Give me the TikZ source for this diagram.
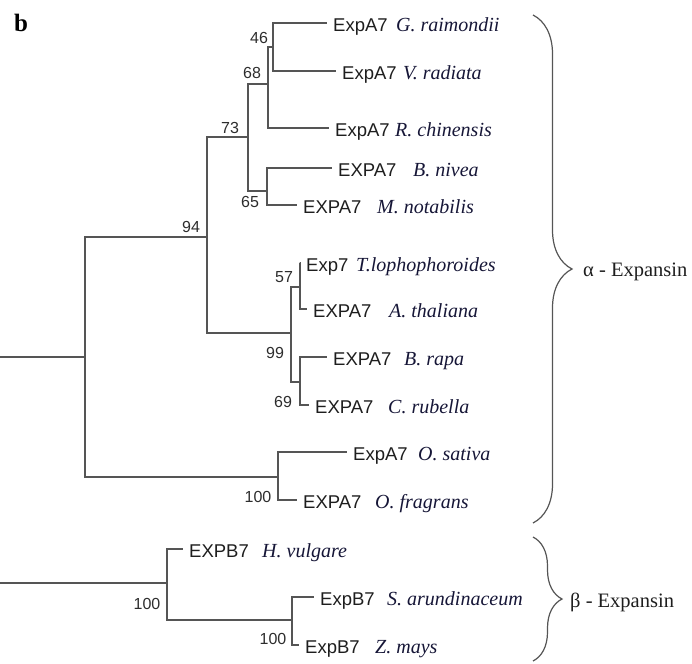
\documentclass[tikz,border=0pt]{standalone}
\usepackage{fontspec}
\setmainfont{Liberation Serif}
\newfontfamily\genefont{Liberation Sans}
\usetikzlibrary{decorations.pathreplacing}
\definecolor{linegray}{RGB}{85,85,85}
\definecolor{genecol}{RGB}{30,30,30}
\definecolor{spcol}{RGB}{22,22,55}
\definecolor{numcol}{RGB}{45,45,45}
\begin{document}
\begin{tikzpicture}[x=1pt,y=-1pt,
  branch/.style={draw=linegray, line width=1.3pt},
  gene/.style={anchor=west, inner xsep=6.5pt, inner ysep=0pt, text height=17pt, text depth=0pt,
    font=\genefont\fontsize{18.5}{18.5}\selectfont, text=genecol},
  species/.style={anchor=west, inner sep=0pt, text height=17pt, text depth=0pt,
    font=\itshape\fontsize{20}{20}\selectfont, text=spcol},
  boot/.style={inner sep=0pt, font=\genefont\fontsize{16}{16}\selectfont, text=numcol},
  clade/.style={anchor=west, inner sep=0pt, font=\fontsize{20.5}{20.5}\selectfont, text=genecol},
  bracestyle/.style={draw=linegray, line width=1.2pt, decorate}
]
\useasboundingbox (0,0) rectangle (692,663);

\node[anchor=base west, inner sep=0pt, font=\bfseries\fontsize{25}{25}\selectfont] (panel) at (14,32) {b};

% leaves: gene names
\node[gene] (G)  at (326.5,23)  {ExpA7};
\node[gene] (V)  at (335.5,71)  {ExpA7};
\node[gene] (R)  at (328.5,128) {ExpA7};
\node[gene] (Bn) at (331.5,168) {EXPA7};
\node[gene] (M)  at (296.5,205) {EXPA7};
\node[gene] (T)  at (299.5,263) {Exp7};
\node[gene] (A)  at (306.5,309) {EXPA7};
\node[gene] (Br) at (326.5,357) {EXPA7};
\node[gene] (C)  at (308.5,405) {EXPA7};
\node[gene] (Os) at (346.5,452) {ExpA7};
\node[gene] (Of) at (296.5,500) {EXPA7};
\node[gene] (H)  at (182.5,549) {EXPB7};
\node[gene] (S)  at (313.5,597) {ExpB7};
\node[gene] (Z)  at (298.5,645) {ExpB7};

% species names
\node[species] (sG)  at (396,23)  {G. raimondii};
\node[species] (sV)  at (403,71)  {V. radiata};
\node[species] (sR)  at (395,128) {R. chinensis};
\node[species] (sBn) at (413,168) {B. nivea};
\node[species] (sM)  at (377,205) {M. notabilis};
\node[species] (sT)  at (356,263) {T.lophophoroides};
\node[species] (sA)  at (389,309) {A. thaliana};
\node[species] (sBr) at (404,357) {B. rapa};
\node[species] (sC)  at (388,405) {C. rubella};
\node[species] (sOs) at (418,452) {O. sativa};
\node[species] (sOf) at (375,500) {O. fragrans};
\node[species] (sH)  at (262,549) {H. vulgare};
\node[species] (sS)  at (387,597) {S. arundinaceum};
\node[species] (sZ)  at (375,645) {Z. mays};

% internal nodes
\coordinate (n46) at (273,47);
\coordinate (n68) at (268,84);
\coordinate (n65) at (267,191);
\coordinate (n73) at (248,137);
\coordinate (n57) at (300,287);
\coordinate (n69) at (300,382);
\coordinate (n99) at (291,333);
\coordinate (n94) at (207,237);
\coordinate (nO)  at (278,477);
\coordinate (nA)  at (85,357);
\coordinate (nSZ) at (292,620);
\coordinate (nB)  at (167,583);
\coordinate (rA)  at (0,357);
\coordinate (rB)  at (0,583);

% branches
\draw[branch] (n46) |- (G.west);
\draw[branch] (n46) |- (V.west);
\draw[branch] (n68) |- (n46);
\draw[branch] (n68) |- (R.west);
\draw[branch] (n65) |- (Bn.west);
\draw[branch] (n65) |- (M.west);
\draw[branch] (n73) |- (n68);
\draw[branch] (n73) |- (n65);
\draw[branch] (n57) |- (T.west);
\draw[branch] (n57) |- (A.west);
\draw[branch] (n69) |- (Br.west);
\draw[branch] (n69) |- (C.west);
\draw[branch] (n99) |- (n57);
\draw[branch] (n99) |- (n69);
\draw[branch] (n94) |- (n73);
\draw[branch] (n94) |- (n99);
\draw[branch] (nO) |- (Os.west);
\draw[branch] (nO) |- (Of.west);
\draw[branch] (nA) |- (n94);
\draw[branch] (nA) |- (nO);
\draw[branch] (rA) -- (nA);
\draw[branch] (nSZ) |- (S.west);
\draw[branch] (nSZ) |- (Z.west);
\draw[branch] (nB) |- (H.west);
\draw[branch] (nB) |- (nSZ);
\draw[branch] (rB) -- (nB);

% bootstrap values
\node[boot] (b46) at (259,38) {46};
\node[boot] (b68) at (252,73) {68};
\node[boot] (b73) at (230,128) {73};
\node[boot] (b65) at (250,202) {65};
\node[boot] (b94) at (191,227) {94};
\node[boot] (b57) at (284,277) {57};
\node[boot] (b99) at (275,353) {99};
\node[boot] (b69) at (283,402) {69};
\node[boot] (bO)  at (258,497) {100};
\node[boot] (bB)  at (147,604) {100};
\node[boot] (bSZ) at (273,639) {100};

% braces
\coordinate (brAt) at (533,15);
\coordinate (brAb) at (533,523);
\coordinate (brBt) at (533,537);
\coordinate (brBb) at (533,661);
\draw[bracestyle, decoration={brace, amplitude=39pt}] (brAt) -- (brAb);
\draw[bracestyle, decoration={brace, amplitude=29pt}] (brBt) -- (brBb);
\node[clade] (alpha) at (583,272) {α - Expansin};
\node[clade] (beta)  at (570,602) {β - Expansin};
\end{tikzpicture}
\end{document}
